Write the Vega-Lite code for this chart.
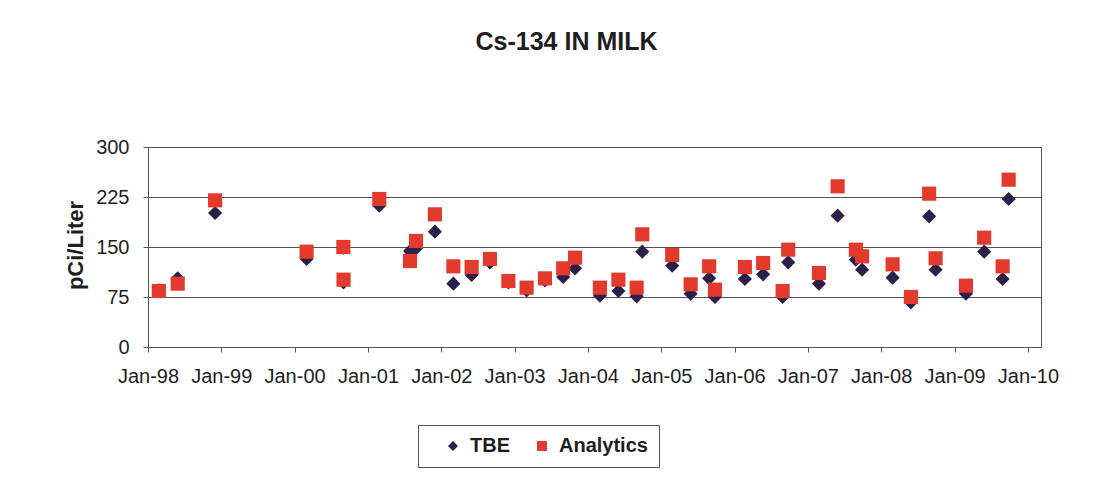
{
  "$schema": "https://vega.github.io/schema/vega-lite/v6.json",
  "width": 893,
  "height": 200,
  "autosize": {"type": "none"},
  "padding": {"left": 148, "top": 147, "right": 75, "bottom": 144},
  "background": "white",
  "title": {
    "text": "Cs-134 IN MILK",
    "font": "Liberation Sans",
    "fontSize": 25,
    "fontWeight": "bold",
    "color": "#1e1e1e",
    "anchor": "middle",
    "frame": "group",
    "dx": -28,
    "offset": 82
  },
  "data": {
    "values": [
      {"date": "1998-02-24", "series": "TBE", "value": 85},
      {"date": "1998-05-29", "series": "TBE", "value": 103},
      {"date": "1998-12-01", "series": "TBE", "value": 201},
      {"date": "2000-03-01", "series": "TBE", "value": 132},
      {"date": "2000-08-31", "series": "TBE", "value": 149},
      {"date": "2000-09-01", "series": "TBE", "value": 97},
      {"date": "2001-02-26", "series": "TBE", "value": 212},
      {"date": "2001-07-29", "series": "TBE", "value": 144},
      {"date": "2001-08-28", "series": "TBE", "value": 148},
      {"date": "2001-11-30", "series": "TBE", "value": 173},
      {"date": "2002-03-02", "series": "TBE", "value": 95},
      {"date": "2002-06-01", "series": "TBE", "value": 108},
      {"date": "2002-08-31", "series": "TBE", "value": 127},
      {"date": "2002-12-01", "series": "TBE", "value": 97},
      {"date": "2003-03-02", "series": "TBE", "value": 85},
      {"date": "2003-06-01", "series": "TBE", "value": 100},
      {"date": "2003-08-31", "series": "TBE", "value": 105},
      {"date": "2003-10-29", "series": "TBE", "value": 118},
      {"date": "2004-03-01", "series": "TBE", "value": 77},
      {"date": "2004-06-01", "series": "TBE", "value": 84},
      {"date": "2004-08-31", "series": "TBE", "value": 76},
      {"date": "2004-09-28", "series": "TBE", "value": 143},
      {"date": "2005-02-24", "series": "TBE", "value": 122},
      {"date": "2005-05-27", "series": "TBE", "value": 80},
      {"date": "2005-08-27", "series": "TBE", "value": 103},
      {"date": "2005-09-25", "series": "TBE", "value": 75},
      {"date": "2006-02-21", "series": "TBE", "value": 102},
      {"date": "2006-05-23", "series": "TBE", "value": 109},
      {"date": "2006-08-28", "series": "TBE", "value": 75},
      {"date": "2006-09-25", "series": "TBE", "value": 127},
      {"date": "2007-02-25", "series": "TBE", "value": 95},
      {"date": "2007-05-29", "series": "TBE", "value": 197},
      {"date": "2007-08-28", "series": "TBE", "value": 131},
      {"date": "2007-09-28", "series": "TBE", "value": 116},
      {"date": "2008-02-27", "series": "TBE", "value": 104},
      {"date": "2008-05-28", "series": "TBE", "value": 67},
      {"date": "2008-08-27", "series": "TBE", "value": 196},
      {"date": "2008-09-28", "series": "TBE", "value": 116},
      {"date": "2009-02-26", "series": "TBE", "value": 80},
      {"date": "2009-05-28", "series": "TBE", "value": 143},
      {"date": "2009-08-28", "series": "TBE", "value": 102},
      {"date": "2009-09-27", "series": "TBE", "value": 222},
      {"date": "1998-02-24", "series": "Analytics", "value": 84},
      {"date": "1998-05-29", "series": "Analytics", "value": 95},
      {"date": "1998-12-01", "series": "Analytics", "value": 220},
      {"date": "2000-03-01", "series": "Analytics", "value": 143},
      {"date": "2000-08-31", "series": "Analytics", "value": 150},
      {"date": "2000-09-01", "series": "Analytics", "value": 101},
      {"date": "2001-02-26", "series": "Analytics", "value": 222},
      {"date": "2001-07-29", "series": "Analytics", "value": 129},
      {"date": "2001-08-28", "series": "Analytics", "value": 159},
      {"date": "2001-11-30", "series": "Analytics", "value": 199},
      {"date": "2002-03-02", "series": "Analytics", "value": 121},
      {"date": "2002-06-01", "series": "Analytics", "value": 120},
      {"date": "2002-08-31", "series": "Analytics", "value": 132},
      {"date": "2002-12-01", "series": "Analytics", "value": 99},
      {"date": "2003-03-02", "series": "Analytics", "value": 89},
      {"date": "2003-06-01", "series": "Analytics", "value": 103},
      {"date": "2003-08-31", "series": "Analytics", "value": 118},
      {"date": "2003-10-29", "series": "Analytics", "value": 134},
      {"date": "2004-03-01", "series": "Analytics", "value": 89},
      {"date": "2004-06-01", "series": "Analytics", "value": 101},
      {"date": "2004-08-31", "series": "Analytics", "value": 89},
      {"date": "2004-09-28", "series": "Analytics", "value": 169},
      {"date": "2005-02-24", "series": "Analytics", "value": 138},
      {"date": "2005-05-27", "series": "Analytics", "value": 94},
      {"date": "2005-08-27", "series": "Analytics", "value": 121},
      {"date": "2005-09-25", "series": "Analytics", "value": 86},
      {"date": "2006-02-21", "series": "Analytics", "value": 120},
      {"date": "2006-05-23", "series": "Analytics", "value": 126},
      {"date": "2006-08-28", "series": "Analytics", "value": 84},
      {"date": "2006-09-25", "series": "Analytics", "value": 146},
      {"date": "2007-02-25", "series": "Analytics", "value": 111},
      {"date": "2007-05-29", "series": "Analytics", "value": 241},
      {"date": "2007-08-28", "series": "Analytics", "value": 146},
      {"date": "2007-09-28", "series": "Analytics", "value": 136},
      {"date": "2008-02-27", "series": "Analytics", "value": 124},
      {"date": "2008-05-28", "series": "Analytics", "value": 75},
      {"date": "2008-08-27", "series": "Analytics", "value": 230},
      {"date": "2008-09-28", "series": "Analytics", "value": 133},
      {"date": "2009-02-26", "series": "Analytics", "value": 92},
      {"date": "2009-05-28", "series": "Analytics", "value": 164},
      {"date": "2009-08-28", "series": "Analytics", "value": 121},
      {"date": "2009-09-27", "series": "Analytics", "value": 251}
    ]
  },
  "mark": {"type": "point", "filled": true, "opacity": 1, "size": 200},
  "encoding": {
    "x": {
      "field": "date",
      "type": "temporal",
      "scale": {
        "type": "utc",
        "domain": [
          {"year": 1998, "month": 1, "date": 1, "utc": true},
          {"year": 2010, "month": 3, "date": 7, "utc": true}
        ],
        "nice": false
      },
      "axis": {
        "title": null,
        "format": "%b-%y",
        "tickCount": {"interval": "year", "step": 1},
        "grid": false,
        "labelFont": "Liberation Sans",
        "labelFontSize": 20,
        "labelColor": "#1e1e1e",
        "labelPadding": 14,
        "labelOverlap": false,
        "labelFlush": false,
        "tickSize": 5,
        "tickColor": "#555555",
        "domainColor": "#555555"
      }
    },
    "y": {
      "field": "value",
      "type": "quantitative",
      "scale": {"domain": [0, 300], "nice": false},
      "axis": {
        "title": "pCi/Liter",
        "values": [0, 75, 150, 225, 300],
        "grid": true,
        "gridColor": "#555555",
        "gridOpacity": 1,
        "labelFont": "Liberation Sans",
        "labelFontSize": 20,
        "labelColor": "#1e1e1e",
        "labelPadding": 14,
        "tickSize": 5,
        "tickColor": "#555555",
        "domainColor": "#555555",
        "titleFont": "Liberation Sans",
        "titleFontSize": 22,
        "titleFontWeight": "bold",
        "titleColor": "#1e1e1e",
        "titleX": -73,
        "titleY": 98,
        "titleAngle": -90,
        "titleAlign": "center",
        "titleBaseline": "middle"
      }
    },
    "color": {
      "field": "series",
      "type": "nominal",
      "scale": {"domain": ["TBE", "Analytics"], "range": ["#2c2048", "#e23a2c"]},
      "legend": {
        "title": null,
        "orient": "none",
        "direction": "horizontal",
        "legendX": 270,
        "legendY": 278,
        "strokeColor": "#555555",
        "padding": 11,
        "symbolOffset": 14,
        "columnPadding": 8,
        "labelOffset": 7,
        "symbolSize": 100,
        "labelFont": "Liberation Sans",
        "labelFontSize": 20,
        "labelFontWeight": "bold",
        "labelColor": "#1e1e1e"
      }
    },
    "shape": {
      "field": "series",
      "type": "nominal",
      "scale": {"domain": ["TBE", "Analytics"], "range": ["diamond", "square"]}
    }
  },
  "config": {
    "view": {"stroke": "#555555", "strokeWidth": 1}
  }
}
